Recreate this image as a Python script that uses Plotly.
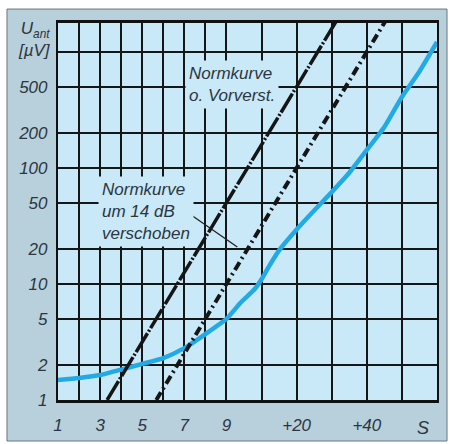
import plotly.graph_objects as go

# Horizontal axis: level in dB relative to S9 (6 dB per S-unit below S9)
grid_x = [-48, -42, -36, -30, -24, -18, -12, -6, 0, 10, 20, 30, 40, 50, 60]
grid_x_text = ["1", "", "3", "", "5", "", "7", "", "9", "", "+20", "", "+40", "", ""]

# Vertical axis: antenna voltage in µV (log scale)
grid_y = [1, 2, 5, 10, 20, 50, 100, 200, 500, 1000]
grid_y_text = ["1", "2", "5", "10", "20", "50", "100", "200", "500", ""]

# Standard S-meter curve without preamplifier
norm_x = [-34, 0, 20, 32]
norm_uv = [1, 50, 500, 2000]

# Same curve shifted by 14 dB
SHIFT_DB = 14
shift_x = [v + SHIFT_DB for v in norm_x]
shift_uv = norm_uv

# Measured curve with preamplifier
pre_x = [-48, -42, -36, -30, -24, -18, -12, -6, 0, 4, 8, 10, 12, 15, 20,
         25, 30, 35, 40, 45, 50, 55, 60]
pre_uv = [1.49, 1.55, 1.64, 1.83, 2.05, 2.3, 2.8, 3.7, 5.0, 6.9, 9.0, 11.0,
          14.0, 19.5, 29.5, 43, 62, 91, 143, 226, 410, 680, 1220]

PANEL = "#b8cfdc"
PLOT_BG = "#c9e8f8"
TXT = "#2b3640"
FONT = "Liberation Sans, Arial, sans-serif"

fig = go.Figure()

fig.add_trace(go.Scatter(
    x=pre_x, y=pre_uv, mode="lines",
    line=dict(color="#22aae6", width=4.5, shape="spline", smoothing=0.5),
    hoverinfo="skip"))
fig.add_trace(go.Scatter(
    x=shift_x, y=shift_uv, mode="lines",
    line=dict(color="#151515", width=4, dash="9px,4px,2px,4px"),
    hoverinfo="skip"))
fig.add_trace(go.Scatter(
    x=norm_x, y=norm_uv, mode="lines",
    line=dict(color="#151515", width=3.5, dash="22px,2px,2px,2px"),
    hoverinfo="skip"))

fig.update_layout(
    width=450, height=444,
    margin=dict(l=58, r=13, t=23, b=44),
    paper_bgcolor=PANEL, plot_bgcolor=PLOT_BG,
    showlegend=False,
    font=dict(family=FONT, color=TXT),
)

fig.update_xaxes(
    range=[-48, 60], tickmode="array", tickvals=grid_x, ticktext=grid_x_text,
    showgrid=True, gridcolor="#161616", gridwidth=1.7, zeroline=False,
    showline=True, linecolor="#111", linewidth=2.5, mirror=True,
    ticks="", ticklabelstandoff=8, automargin=False,
    tickfont=dict(size=17, style="italic", color=TXT, family=FONT))
fig.update_yaxes(
    type="log", range=[0, 3.25], tickmode="array", tickvals=grid_y,
    ticktext=grid_y_text,
    showgrid=True, gridcolor="#161616", gridwidth=1.7, zeroline=False,
    showline=True, linecolor="#111", linewidth=2.2, mirror=True,
    ticks="", ticklabelstandoff=5, automargin=False,
    tickfont=dict(size=17, style="italic", color=TXT, family=FONT))

# White surround and frame of the panel
for x0, y0, x1, y1 in [(-0.2, 1.037, 1.1, 1.2), (-0.2, -0.2, -0.1346, 1.2),
                       (-0.2, -0.2, 1.1, -0.1088), (1.0264, -0.2, 1.1, 1.2)]:
    fig.add_shape(type="rect", xref="paper", yref="paper",
                  x0=x0, y0=y0, x1=x1, y1=y1,
                  fillcolor="white", line=dict(width=0), layer="below")
fig.add_shape(type="rect", xref="paper", yref="paper",
              x0=-0.1346, y0=-0.1088, x1=1.0264, y1=1.037,
              line=dict(color="#6a7680", width=1), layer="below")

# Leader line to the shifted curve
fig.add_annotation(x=3.1, y=1.319, xref="x", yref="y", text="",
                   showarrow=True, arrowhead=0, arrowwidth=1.3,
                   arrowcolor="#222", ax=-52, ay=-36, standoff=0)

fig.add_annotation(
    x=1.7, y=2.724, xref="x", yref="y",
    text="<i>Normkurve</i><br><i>o. Vorverst.</i>",
    showarrow=False, align="left", xanchor="center", yanchor="middle",
    bgcolor=PLOT_BG, borderpad=3,
    font=dict(size=17, color=TXT, family=FONT))
fig.add_annotation(
    x=-22.9, y=1.629, xref="x", yref="y",
    text="<i>Normkurve</i><br><i>um 14 dB</i><br><i>verschoben</i>",
    showarrow=False, align="left", xanchor="center", yanchor="middle",
    bgcolor=PLOT_BG, borderpad=3,
    font=dict(size=17, color=TXT, family=FONT))

# Axis titles
fig.add_annotation(
    x=-0.013, y=0.955, xref="paper", yref="paper",
    text="<i>U<sub>ant</sub></i><br><i>[µV]</i>",
    showarrow=False, align="right", xanchor="right", yanchor="middle",
    font=dict(size=17, color=TXT, family=FONT))
fig.add_annotation(
    x=0.963, y=-0.074, xref="paper", yref="paper", text="<i>S</i>",
    showarrow=False, xanchor="center", yanchor="middle",
    font=dict(size=18, color=TXT, family=FONT))

fig.write_html("out.html")
